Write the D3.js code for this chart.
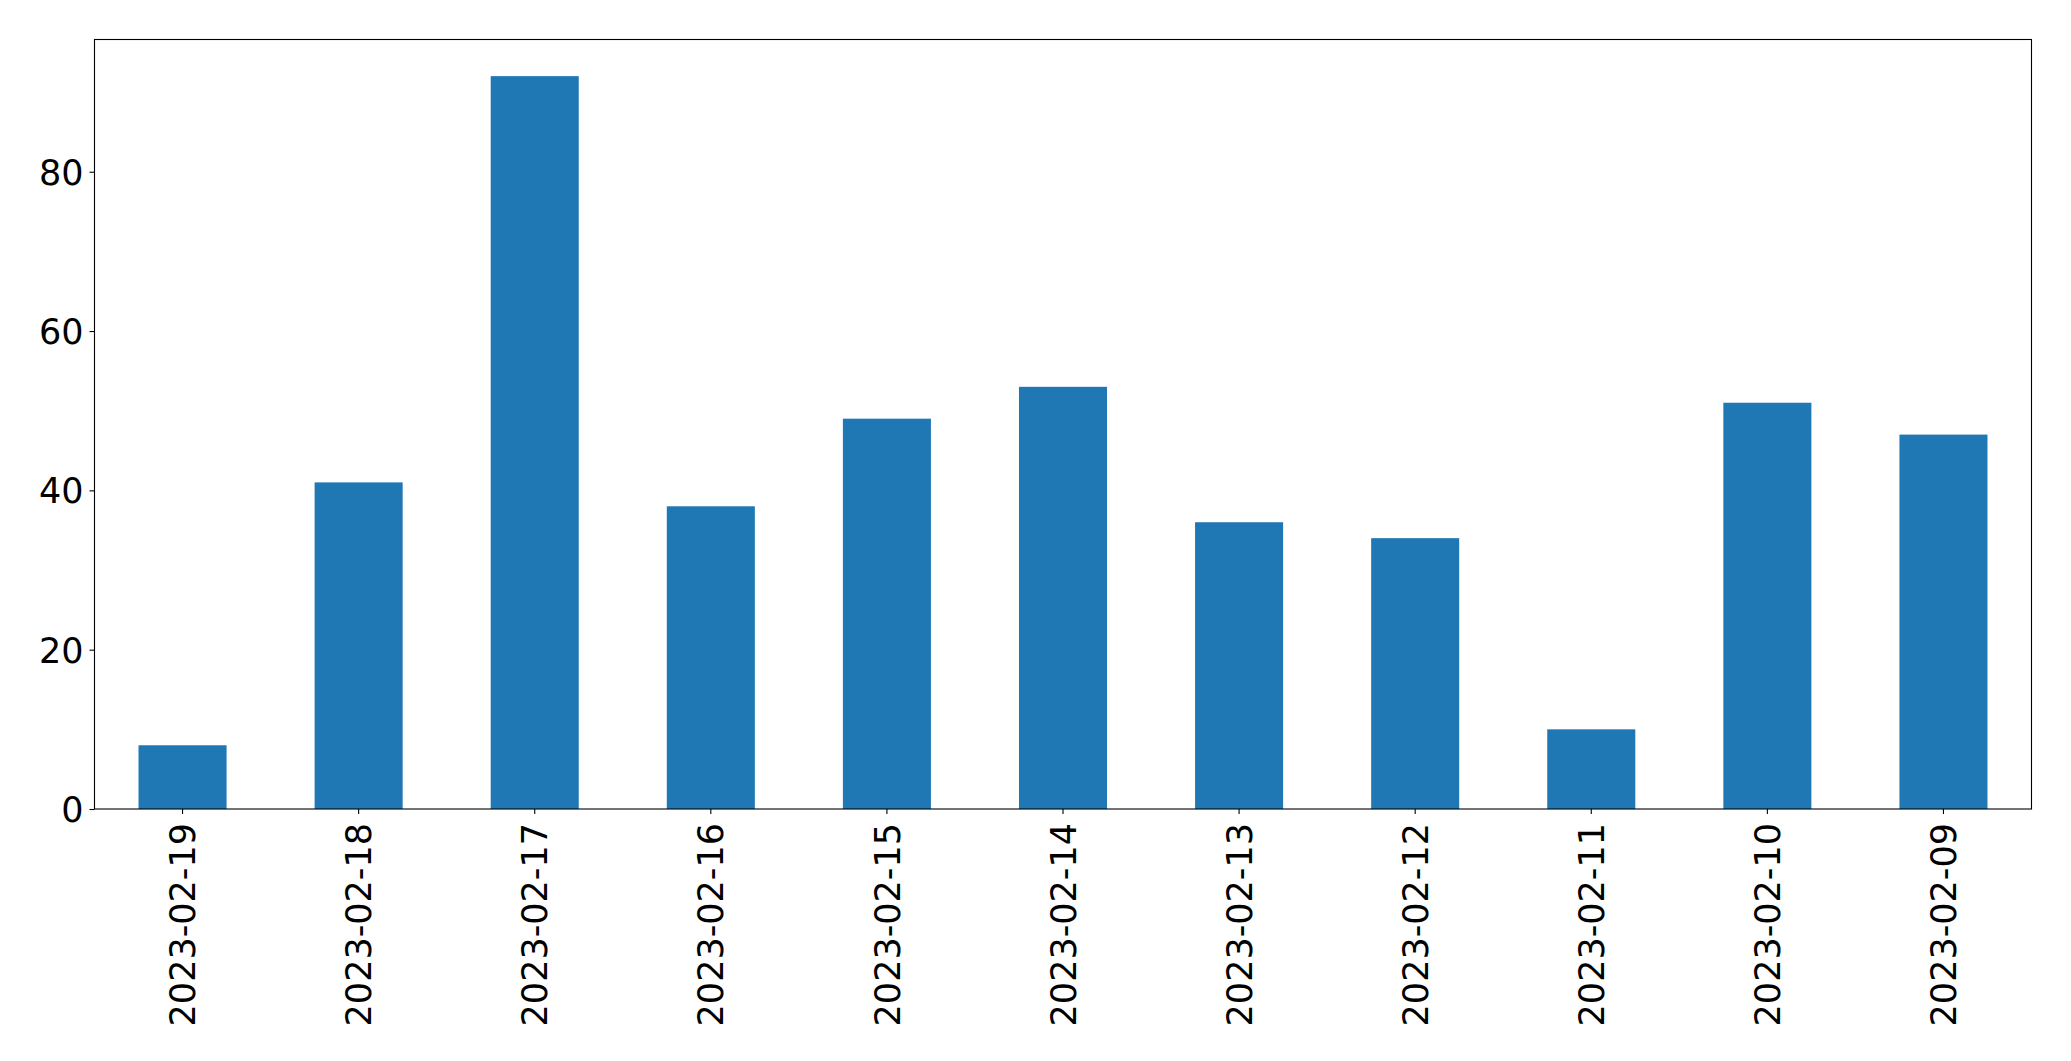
<!DOCTYPE html>
<html>
<head>
<meta charset="utf-8">
<script src="https://cdn.jsdelivr.net/npm/d3@7"></script>
<style>
html,body{margin:0;padding:0;background:#fff;}
svg{display:block;}
text{font-family:"DejaVu Sans",sans-serif;}
</style>
</head>
<body>
<svg id="chart" width="2071" height="1061"></svg>
<script>
const categories = ["2023-02-19","2023-02-18","2023-02-17","2023-02-16","2023-02-15","2023-02-14","2023-02-13","2023-02-12","2023-02-11","2023-02-10","2023-02-09"];
const values = [8, 41, 92, 38, 49, 53, 36, 34, 10, 51, 47];
const yTicks = [0, 20, 40, 60, 80];

(function () {
const svg = d3.select("#chart");
const mLeft = 94.5, mRight = 2031.5, mTop = 39.5, mBottom = 809;
const fontSize = 35;

const x = d3.scaleBand().domain(categories).range([mLeft, mRight]).paddingInner(0.5).paddingOuter(0.25);
const y = d3.scaleLinear().domain([0, d3.max(values) * 1.05]).range([mBottom, mTop]);

svg.append("g").selectAll("rect").data(values).join("rect")
  .attr("x", (d, i) => x(categories[i]))
  .attr("width", x.bandwidth())
  .attr("y", d => y(d))
  .attr("height", d => y(0) - y(d))
  .attr("fill", "#1f77b4");

// frame
svg.append("rect").attr("x", mLeft).attr("y", mTop)
  .attr("width", mRight - mLeft).attr("height", mBottom - mTop)
  .attr("fill", "none").attr("stroke", "#000").attr("stroke-width", 1.1);

// y axis
const yAxis = d3.axisLeft(y).tickValues(yTicks).tickSize(5).tickPadding(6).tickFormat(d3.format("d"));
const gy = svg.append("g").attr("transform", `translate(${mLeft},0)`).call(yAxis);
gy.select(".domain").remove();
gy.selectAll(".tick line").attr("stroke", "#000").attr("stroke-width", 1.1);
gy.selectAll(".tick text").attr("font-size", fontSize).attr("fill", "#000")
  .attr("font-family", "DejaVu Sans, sans-serif").attr("dy", "0.36em");

// x axis
const xAxis = d3.axisBottom(x).tickSize(5).tickPadding(0);
const gx = svg.append("g").attr("transform", `translate(0,${mBottom})`).call(xAxis);
gx.select(".domain").remove();
gx.selectAll(".tick line").attr("stroke", "#000").attr("stroke-width", 1.1);
gx.selectAll(".tick text")
  .attr("font-size", fontSize).attr("fill", "#000")
  .attr("font-family", "DejaVu Sans, sans-serif")
  .attr("text-anchor", "end")
  .attr("transform", "translate(0,14) rotate(-90)")
  .attr("x", 0).attr("y", 0).attr("dy", "0.36em");
})();
</script>
</body>
</html>
